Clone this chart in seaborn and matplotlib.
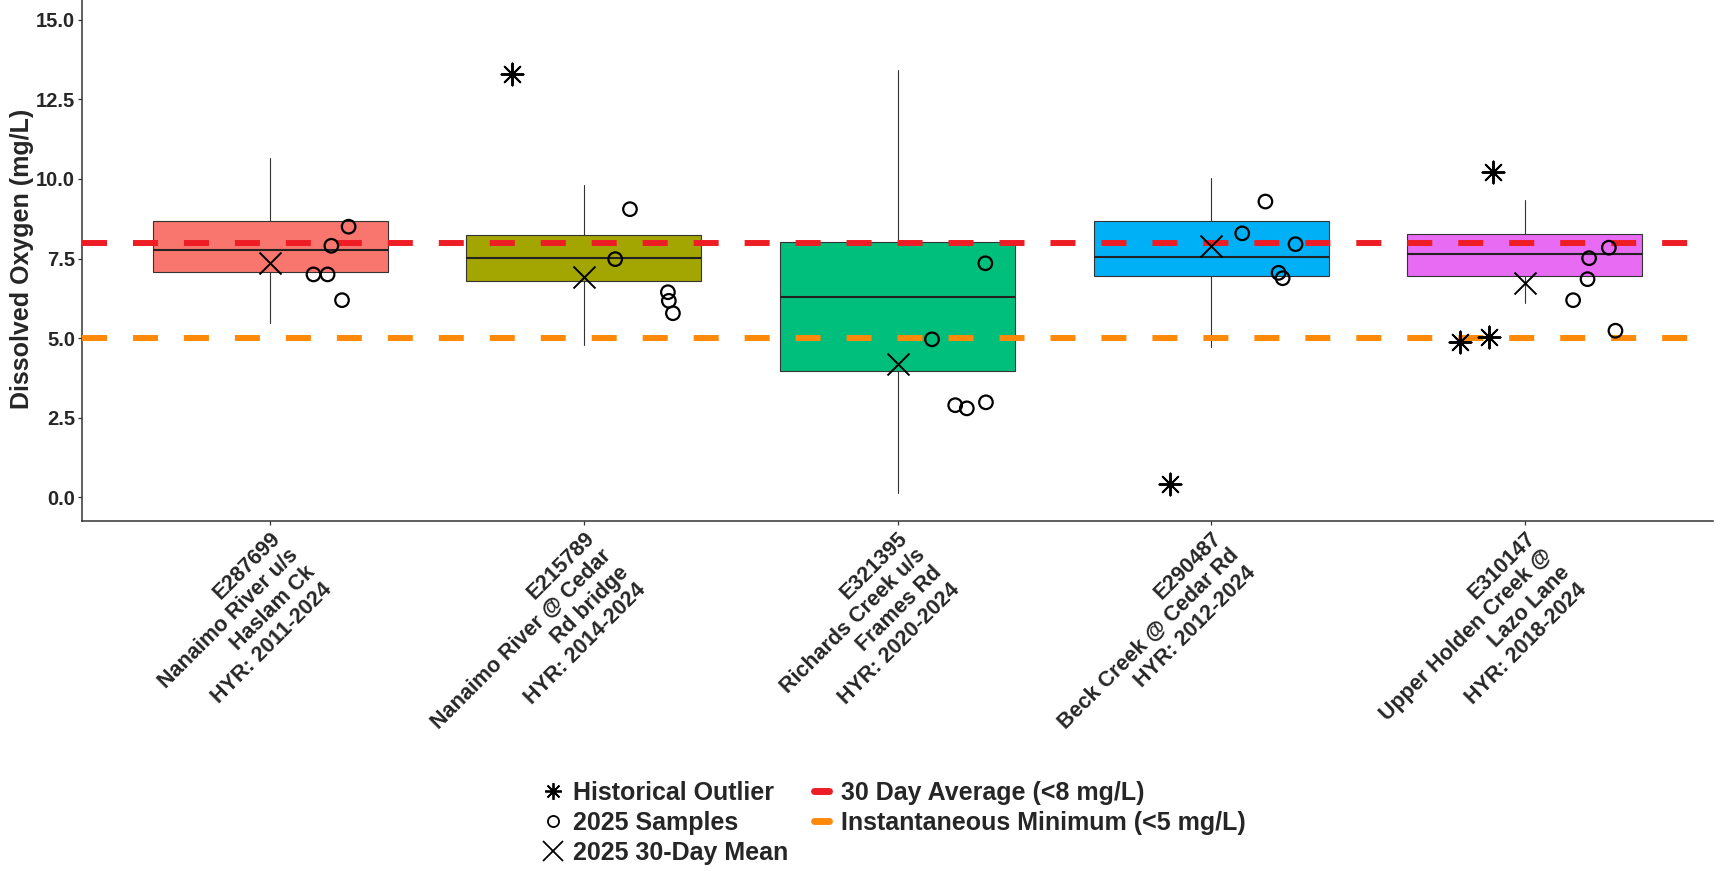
import numpy as np
import pandas as pd
import seaborn as sns
import matplotlib as mpl
import matplotlib.pyplot as plt
from matplotlib.lines import Line2D

# site labels (x axis)
sites = [
    'E287699\nNanaimo River u/s\nHaslam Ck\nHYR: 2011-2024',
    'E215789\nNanaimo River @ Cedar\nRd bridge\nHYR: 2014-2024',
    'E321395\nRichards Creek u/s\nFrames Rd\nHYR: 2020-2024',
    'E290487\nBeck Creek @ Cedar Rd\nHYR: 2012-2024',
    'E310147\nUpper Holden Creek @\nLazo Lane\nHYR: 2018-2024',
]

# historical box statistics
box_q1 = [7.08, 6.80, 3.96, 6.95, 6.96]
box_med = [7.77, 7.53, 6.28, 7.56, 7.65]
box_q3 = [8.69, 8.23, 8.03, 8.68, 8.26]
whisk_lo = [5.48, 4.78, 0.12, 4.73, 6.09]
whisk_hi = [10.67, 9.81, 13.41, 10.02, 9.34]
box_colors = ['#F8766D', '#A3A500', '#00BF7D', '#00B0F6', '#E76BF3']

# 2025 30-day mean
mean_30day = [7.35, 6.93, 4.18, 7.89, 6.72]

# 2025 samples
sample_site = [0] * 5 + [1] * 5 + [2] * 5 + [3] * 5 + [4] * 5
sample_do = [8.50, 7.90, 7.00, 7.00, 6.19,
             9.05, 7.48, 6.44, 6.17, 5.78,
             7.35, 4.96, 2.89, 2.79, 2.98,
             9.29, 8.29, 7.95, 7.05, 6.88,
             7.84, 7.51, 6.85, 6.19, 5.23]
sample_jitter = [0.25, 0.195, 0.138, 0.183, 0.229,
                 0.147, 0.10, 0.268, 0.271, 0.284,
                 0.28, 0.11, 0.184, 0.221, 0.282,
                 0.173, 0.099, 0.269, 0.215, 0.228,
                 0.268, 0.205, 0.20, 0.154, 0.289]

# historical outliers
outlier_site = [1, 3, 4, 4, 4]
outlier_do = [13.30, 0.41, 10.23, 4.88, 5.02]
outlier_jitter = [-0.23, -0.13, -0.102, -0.208, -0.113]

# guideline values
avg_limit = 8
min_limit = 5
RED = '#EE1D25'
ORANGE = '#FF8A0A'

sns.set_theme(style='ticks')
plt.rcParams['font.family'] = ['Liberation Sans', 'DejaVu Sans']
plt.rcParams['font.weight'] = 'bold'
plt.rcParams['lines.scale_dashes'] = False

W, H = 1721, 871
fig = plt.figure(figsize=(W / 100, H / 100), dpi=100)
ax = fig.add_axes([82 / W, 1 - 521 / H, (1713 - 82) / W, 525 / H])

stats = []
for i in range(len(sites)):
    stats.append({'med': box_med[i], 'q1': box_q1[i], 'q3': box_q3[i],
                  'whislo': whisk_lo[i], 'whishi': whisk_hi[i], 'fliers': []})
bp = ax.bxp(stats, positions=range(len(sites)), widths=0.75, patch_artist=True,
            showcaps=False, showfliers=False,
            boxprops=dict(edgecolor='#333333', linewidth=0.8),
            whiskerprops=dict(color='#333333', linewidth=0.8),
            medianprops=dict(color='#222222', linewidth=1.5))
for patch, c in zip(bp['boxes'], box_colors):
    patch.set_facecolor(c)
    patch.set_zorder(2)

ax.axhline(avg_limit, color=RED, lw=4.3, dashes=(18, 18.7), zorder=3)
ax.axhline(min_limit, color=ORANGE, lw=4.3, dashes=(18, 18.7), zorder=3)

samples = pd.DataFrame({'x': np.array(sample_site) + np.array(sample_jitter), 'do': sample_do})
sns.scatterplot(data=samples, x='x', y='do', marker='o', s=95, facecolor='none',
                edgecolor='black', linewidth=1.6, ax=ax, zorder=4)

means = pd.DataFrame({'x': np.arange(len(sites)), 'do': mean_30day})
sns.scatterplot(data=means, x='x', y='do', marker='x', s=250, color='black',
                linewidth=1.4, ax=ax, zorder=4)

outliers = pd.DataFrame({'x': np.array(outlier_site) + np.array(outlier_jitter), 'do': outlier_do})
sns.scatterplot(data=outliers, x='x', y='do', marker=(8, 2, 0), s=250, color='black',
                linewidth=1.4, ax=ax, zorder=4)

ax.set_xlim(-0.6, 4.6)
ax.set_ylim(-0.75, 15.75)
ax.set_xticks(range(len(sites)))
ax.set_xticklabels(sites, rotation=45, ha='right', va='top', rotation_mode='anchor',
                   multialignment='right', fontsize=15.5, fontweight='bold')
ax.set_yticks([0, 2.5, 5, 7.5, 10, 12.5, 15])
ax.set_yticklabels(['%.1f' % v for v in [0, 2.5, 5, 7.5, 10, 12.5, 15]],
                   fontsize=14.5, fontweight='bold')
ax.tick_params(length=3, width=0.9, color='#333333', pad=2)
ax.set_xlabel('')
ax.set_ylabel('Dissolved Oxygen (mg/L)', fontsize=18, fontweight='bold', labelpad=1)
for side in ['top', 'right']:
    ax.spines[side].set_visible(False)
for side in ['left', 'bottom']:
    ax.spines[side].set_color('#333333')
    ax.spines[side].set_linewidth(1.1)

handles = [
    Line2D([], [], marker=(8, 2, 0), ls='none', color='black', markersize=12, mew=1.3),
    Line2D([], [], marker='o', ls='none', mfc='none', mec='black', markersize=8, mew=1.3),
    Line2D([], [], marker='x', ls='none', color='black', markersize=14, mew=1.3),
    Line2D([], [], color=RED, lw=5),
    Line2D([], [], color=ORANGE, lw=5),
]
labels = ['Historical Outlier', '2025 Samples', '2025 30-Day Mean',
          '30 Day Average (<8 mg/L)', 'Instantaneous Minimum (<5 mg/L)']
fig.legend(handles, labels, ncol=2, loc='upper center', bbox_to_anchor=(896 / W, 1 - 768 / H),
           frameon=False, prop={'size': 18, 'weight': 'bold'}, handlelength=0.6,
           handletextpad=0.5, columnspacing=1.0, labelspacing=0.25, borderpad=0)

fig.savefig('out.png', dpi=100)
